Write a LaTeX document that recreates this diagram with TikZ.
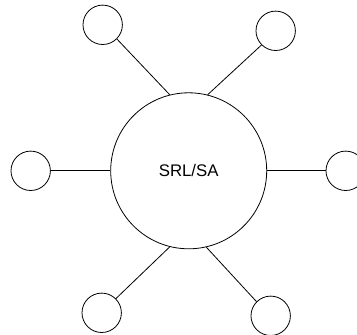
\documentclass[tikz,border=0pt]{standalone}
\usepackage{fontspec}
\setmainfont{Liberation Sans}
\usetikzlibrary{positioning}

\begin{document}
\begin{tikzpicture}[
    on grid,
    line width = 0.8pt
  ]
  \tikzstyle{hub}  = [
    draw, circle,
    inner sep      = 0pt,
    minimum size   = 156pt,
    font           = \fontsize{16.8}{20}\selectfont
  ]
  \tikzstyle{leaf} = [
    draw, circle,
    inner sep      = 0pt,
    minimum size   = 39.4pt
  ]
  \tikzstyle{link} = [draw]

  \useasboundingbox (-188.7pt,170.8pt) rectangle (168.3pt,-164.2pt);

  \node [hub]                                      (srl)   {SRL/SA};
  \node [leaf, above left  = 146pt and 86pt of srl] (nwleaf) {};
  \node [leaf, above right = 140pt and 87pt of srl] (neleaf) {};
  \node [leaf, left  = 158pt of srl]               (wleaf)  {};
  \node [leaf, right = 157pt of srl]               (eleaf)  {};
  \node [leaf, below left  = 142pt and 87pt of srl] (swleaf) {};
  \node [leaf, below right = 145pt and 82pt of srl] (seleaf) {};

  \path [link] (srl.104)  -- (nwleaf.-45);
  \path [link] (srl.76)   -- (neleaf.-135);
  \path [link] (srl.west) -- (wleaf.east);
  \path [link] (srl.east) -- (eleaf.west);
  \path [link] (srl.-104) -- (swleaf.45);
  \path [link] (srl.-77)  -- (seleaf.135);
\end{tikzpicture}
\end{document}
